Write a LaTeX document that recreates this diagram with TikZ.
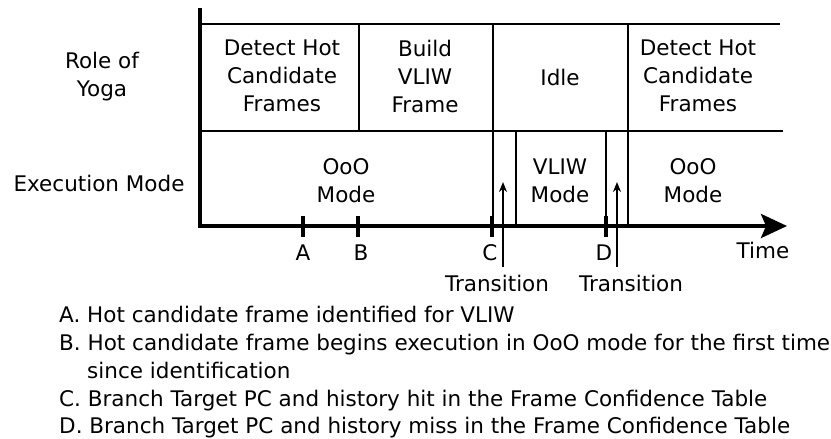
\documentclass[tikz,border=0pt]{standalone}
\usepackage{fontspec}
\setmainfont{DejaVu Sans}
\usetikzlibrary{arrows.meta}
\begin{document}
\begin{tikzpicture}[x=1pt,y=-1pt,
  lbl/.style={font=\fontsize{21.5}{28}\selectfont, align=center, inner sep=0pt},
  note/.style={font=\fontsize{21.5}{28}\selectfont, anchor=base west, inner sep=0pt},
  thin/.style={line width=1.8pt},
  axis/.style={line width=3.6pt},
  tick/.style={line width=3.6pt}]
\useasboundingbox (0,0) rectangle (831,439);
% grid
\draw[thin] (200,24) -- (780,24);
\draw[thin] (200,131) -- (783,131);
\draw[thin] (359,24) -- (359,131);
\draw[thin] (493,24) -- (493,226);
\draw[thin] (628,24) -- (628,226);
\draw[thin] (516,226) -- (516,131) -- (606,131) -- (606,226);
% axes
\draw[axis] (200,8) -- (200,226);
\draw[axis,-{Stealth[length=26pt,width=24pt,inset=5pt]}] (198.2,226) -- (787,226);
% ticks
\foreach \x in {303,358,492,606}{
  \draw[tick] (\x,216) -- (\x,237);
}
\node[lbl] (tA) at (303,253) {A};
\node[lbl] (tB) at (361,253) {B};
\node[lbl] (tC) at (490,253) {C};
\node[lbl] (tD) at (604,253) {D};
\node[lbl] (time) at (763,250) {Time};
% transitions
\coordinate (t1b) at (503,267); \coordinate (t1t) at (503,182);
\coordinate (t2b) at (617,267); \coordinate (t2t) at (617,182);
\draw[thin,-{Stealth[length=10pt,width=8pt]}] (t1b) -- (t1t);
\draw[thin,-{Stealth[length=10pt,width=8pt]}] (t2b) -- (t2t);
\node[lbl] (tr1) at (497,283) {Transition};
\node[lbl] (tr2) at (631,283) {Transition};
% row labels
\node[lbl] (role) at (102,77) {Role of\\Yoga};
\node[lbl] (exec) at (99,183) {Execution Mode};
% role cells
\node[lbl] (r1) at (282,76) {Detect Hot\\Candidate\\Frames};
\node[lbl] (r2) at (425,76) {Build\\VLIW\\Frame};
\node[lbl] (r3) at (560,77) {Idle};
\node[lbl] (r4) at (698,76) {Detect Hot\\Candidate\\Frames};
% modes
\node[lbl] (m1) at (346,181) {OoO\\Mode};
\node[lbl] (m2) at (560,181) {VLIW\\Mode};
\node[lbl] (m3) at (693,181) {OoO\\Mode};
% notes
\node[note] (nA) at (59,322) {A. Hot candidate frame identified for VLIW};
\node[note] (nB) at (59,350) {B. Hot candidate frame begins execution in OoO mode for the first time};
\node[note] (nB2) at (87,378) {since identification};
\node[note] (nC) at (59,406) {C. Branch Target PC and history hit in the Frame Confidence Table};
\node[note] (nD) at (59,433) {D. Branch Target PC and history miss in the Frame Confidence Table};
\end{tikzpicture}
\end{document}
